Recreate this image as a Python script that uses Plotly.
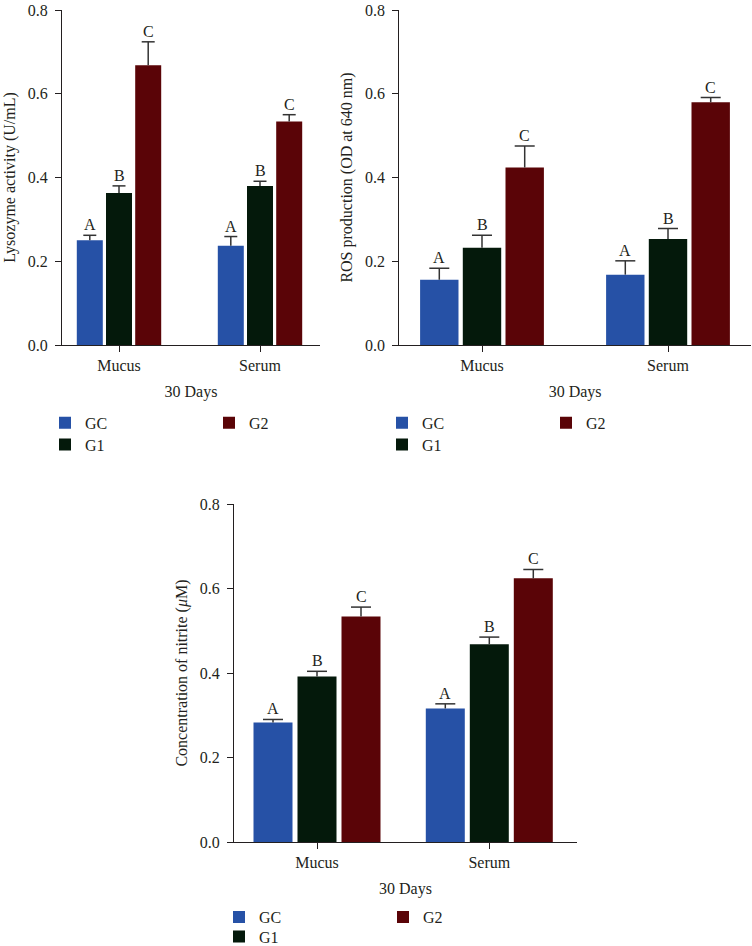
import plotly.graph_objects as go

W, H = 752, 946

categories = ["Mucus", "Serum"]
groups = ["GC", "G1", "G2"]
colors = {"GC": "#2651A6", "G1": "#04190B", "G2": "#5A0407"}
letters = {"GC": "A", "G1": "B", "G2": "C"}

# Lysozyme activity (U/mL)
lyso_val = {"GC": [0.250, 0.237], "G1": [0.363, 0.380], "G2": [0.668, 0.534]}
lyso_err = {"GC": [0.012, 0.022], "G1": [0.017, 0.011], "G2": [0.056, 0.016]}
# ROS production (OD at 640 nm)
ros_val = {"GC": [0.156, 0.168], "G1": [0.232, 0.253], "G2": [0.424, 0.580]}
ros_err = {"GC": [0.027, 0.033], "G1": [0.030, 0.025], "G2": [0.051, 0.011]}
# Concentration of nitrite (uM)
nit_val = {"GC": [0.283, 0.316], "G1": [0.392, 0.468], "G2": [0.534, 0.624]}
nit_err = {"GC": [0.007, 0.011], "G1": [0.012, 0.017], "G2": [0.022, 0.021]}

y_ticks = [0.0, 0.2, 0.4, 0.6, 0.8]
x_title = "30 Days"

FONT = "Liberation Serif"
TXT = "#231F20"
FS = 16

# panel geometry in pixels; legend item positions (square left x, square center y)
panels = [
    dict(vals=lyso_val, errs=lyso_err, title="Lysozyme activity (U/mL)",
         xdom=(62, 320), ydom=(10, 345), c0=119, c1=260, bw=26, sp=29.2, cap=6.5,
         leg={"GC": (61, 422.8), "G1": (61, 444.7), "G2": (225, 422.8)}, ax=""),
    dict(vals=ros_val, errs=ros_err, title="ROS production (OD at 640 nm)",
         xdom=(399.3, 751), ydom=(10, 345), c0=482, c1=668, bw=38.4, sp=42.7, cap=10,
         leg={"GC": (398, 422.8), "G1": (398, 444.7), "G2": (562, 422.8)}, ax="2"),
    dict(vals=nit_val, errs=nit_err, title="Concentration of nitrite (<i>μ</i>M)",
         xdom=(234, 577), ydom=(504, 842), c0=317, c1=489.3, bw=39, sp=44, cap=10,
         leg={"GC": (235, 917.2), "G1": (235, 936.5), "G2": (399, 917.2)}, ax="3"),
]

fig = go.Figure()
annotations = []
layout = {}
legend_idx = 1
idx = list(range(len(categories)))

for pi, p in enumerate(panels):
    ppu = p["c1"] - p["c0"]
    xa = "x" + p["ax"]
    ya = "y" + p["ax"]
    ex, ey = [], []
    for gi, g in enumerate(groups):
        center = (gi - 1) * p["sp"] / ppu
        width = p["bw"] / ppu
        capw = p["cap"] / ppu
        lk = "legend" if legend_idx == 1 else f"legend{legend_idx}"
        legend_idx += 1
        fig.add_trace(go.Bar(
            x=idx, y=p["vals"][g], name=g,
            marker=dict(color=colors[g], line=dict(width=0)),
            width=width, offset=center - width / 2,
            xaxis=xa, yaxis=ya, legend=lk,
            showlegend=True, hoverinfo="skip",
        ))
        sx, sy = p["leg"][g]
        layout[lk] = dict(
            x=(sx - 16) / W, y=1 - sy / H, xanchor="left", yanchor="middle",
            orientation="v", bgcolor="rgba(0,0,0,0)", borderwidth=0,
            font=dict(family=FONT, size=FS, color=TXT), itemwidth=30,
        )
        for ci in idx:
            v = p["vals"][g][ci]
            top = v + p["errs"][g][ci]
            xc = ci + center
            ex += [xc, xc, None, xc - capw, xc + capw, None]
            ey += [v, top, None, top, top, None]
            annotations.append(dict(
                x=xc, y=top, xref=xa, yref=ya, text=letters[g], showarrow=False,
                yanchor="bottom", xanchor="center", yshift=0,
                font=dict(family=FONT, size=FS, color=TXT)))
    fig.add_trace(go.Scatter(
        x=ex, y=ey, mode="lines", line=dict(color="#333333", width=1.5),
        xaxis=xa, yaxis=ya, showlegend=False, hoverinfo="skip", connectgaps=False,
    ))
    xk = "xaxis" + p["ax"]
    yk = "yaxis" + p["ax"]
    layout[xk] = dict(
        domain=[p["xdom"][0] / W, p["xdom"][1] / W],
        anchor=ya, type="linear", tickvals=idx, ticktext=categories,
        range=[(p["xdom"][0] - p["c0"]) / ppu, (p["xdom"][1] - p["c0"]) / ppu],
        showline=True, linecolor=TXT, linewidth=1.3, ticks="outside", ticklen=6,
        tickwidth=1.3, tickcolor=TXT, showgrid=False, zeroline=False,
        tickfont=dict(family=FONT, size=FS, color=TXT), automargin=False,
        ticklabeloverflow="allow",
        title=dict(text=x_title, font=dict(family=FONT, size=FS, color=TXT), standoff=12),
        fixedrange=True,
    )
    layout[yk] = dict(
        domain=[1 - p["ydom"][1] / H, 1 - p["ydom"][0] / H],
        anchor=xa, range=[0, 0.8], tickvals=y_ticks, tickformat=".1f",
        showline=True, linecolor=TXT, linewidth=1.3, ticks="outside", ticklen=6,
        tickwidth=1.3, tickcolor=TXT, showgrid=False, zeroline=False,
        tickfont=dict(family=FONT, size=FS, color=TXT), automargin=False,
        ticklabeloverflow="allow", ticklabelstandoff=4,
        title=dict(text=p["title"], font=dict(family=FONT, size=FS, color=TXT), standoff=8),
        fixedrange=True,
    )

fig.update_layout(
    width=W, height=H, autosize=False,
    margin=dict(l=0, r=0, t=0, b=0, autoexpand=False),
    paper_bgcolor="white", plot_bgcolor="white",
    barmode="overlay", showlegend=True,
    annotations=annotations,
    font=dict(family=FONT, size=FS, color=TXT),
    **layout,
)

fig.write_html(
    "out.html",
    config={"displayModeBar": False},
    post_script="document.body.style.margin='0';document.body.style.overflow='hidden';",
)
